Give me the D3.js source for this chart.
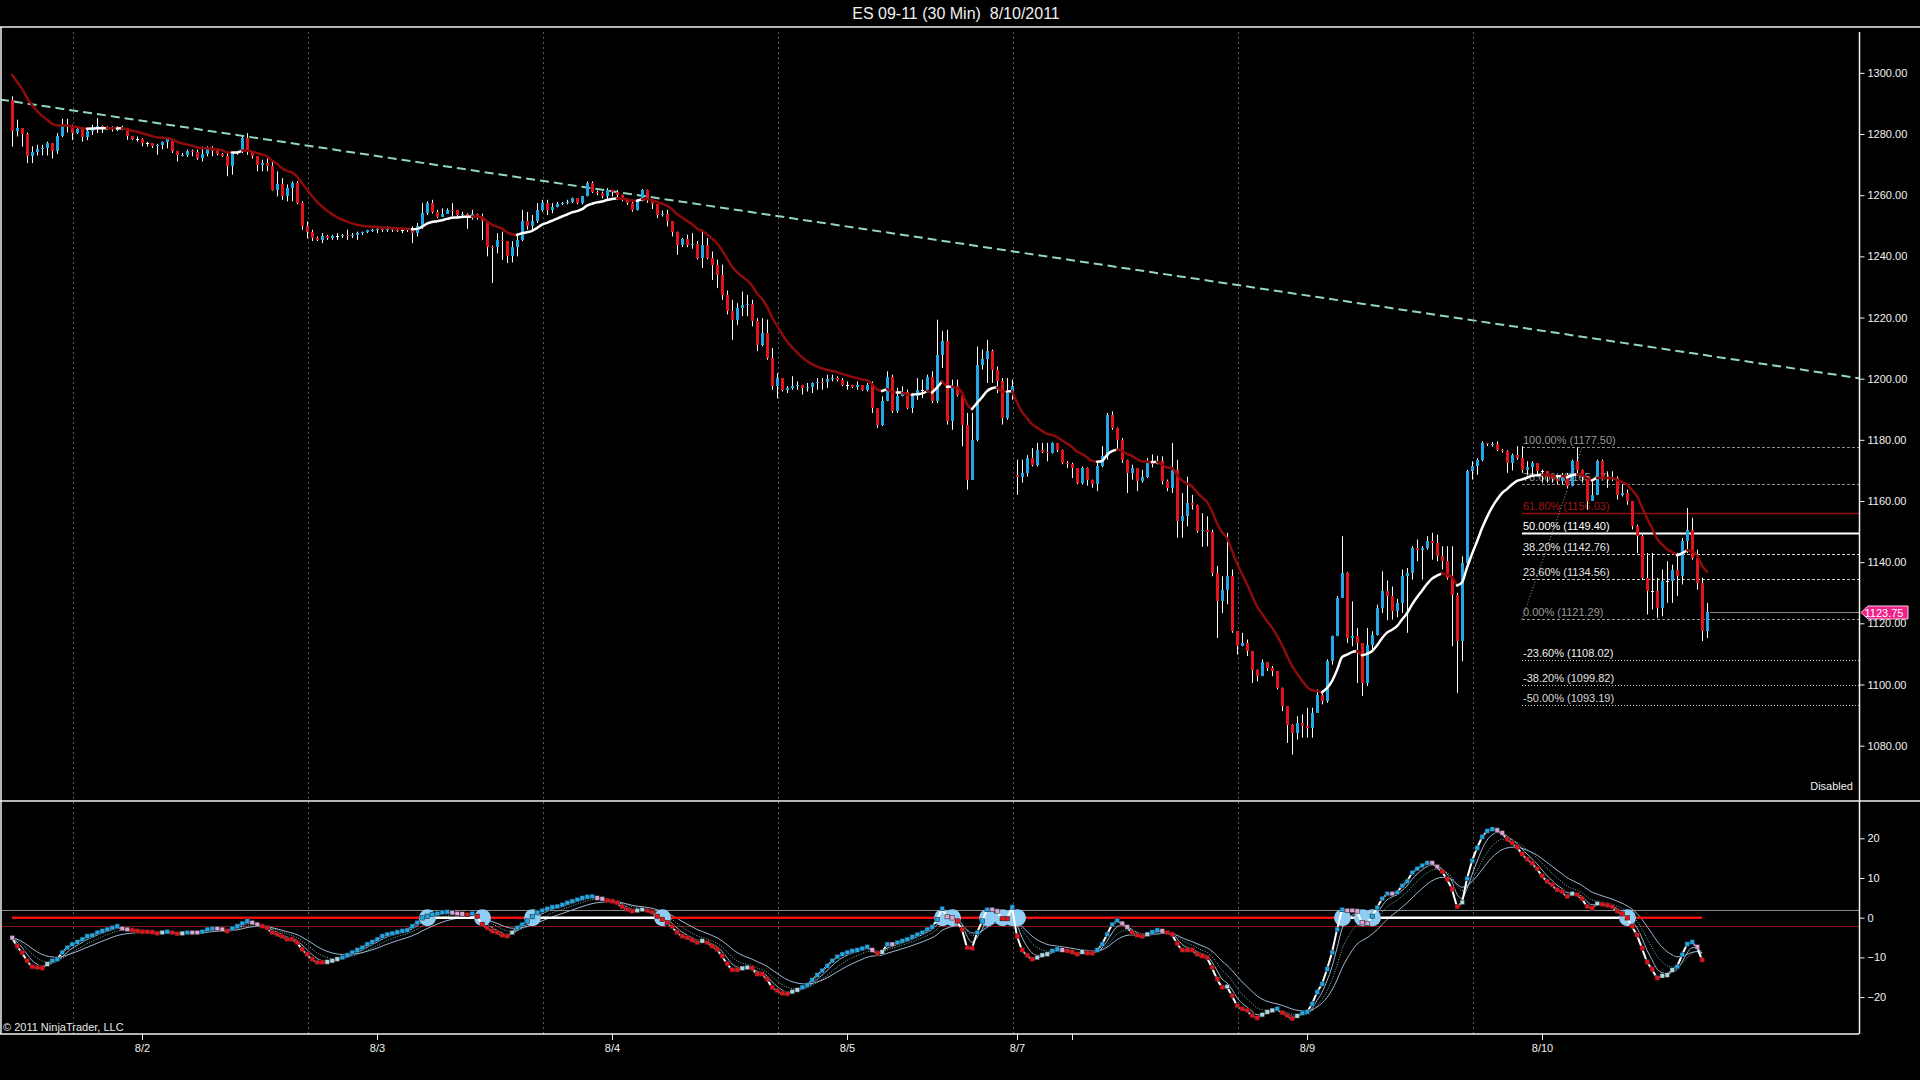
<!DOCTYPE html>
<html>
<head>
<meta charset="utf-8">
<title>ES 09-11 (30 Min)</title>
<script src="https://d3js.org/d3.v7.min.js"></script>
<style>
  html, body { margin: 0; padding: 0; background: #000; }
  svg { display: block; }
  text { font-family: "Liberation Sans", Arial, sans-serif; }
</style>
</head>
<body>
<div id="chart"></div>
<script>
// ---- bar data (30 min bars, one slot per bar) ----
var closes = [
  1281, 1282, 1280, 1272.7, 1274, 1275, 1275.5, 1277, 1274.5, 1279.2, 1282.5, 1282.7, 1280.3,
  1281.5, 1279, 1281, 1282, 1282.5, 1282, 1282, 1281.5, 1281.8,
  1282, 1279.2, 1278.5, 1278.5, 1277, 1277, 1276, 1276.5, 1277.5, 1278.5,
  1274.5, 1273, 1273.2, 1274.3, 1274, 1272.2, 1273.5, 1275, 1274.5, 1273.5,
  1272.7, 1269.4, 1273.8, 1274, 1278.6, 1274.3, 1272.7, 1270, 1270.5, 1269.4,
  1261.8, 1263.5, 1259.6, 1262.3, 1264, 1257.4, 1249.8,
  1248.1, 1246, 1245.4, 1246.5, 1246, 1246.5, 1246.5, 1247, 1246.8, 1247, 1247.5, 1248, 1248.5, 1248.6,
  1249, 1248.7, 1249, 1248.7, 1248.5, 1248.5, 1248.8, 1247.6, 1249.8, 1254.1,
  1257.4, 1254.6, 1253, 1254, 1255.2, 1255, 1253.5, 1254, 1253, 1254,
  1252.5, 1251.4, 1243.2, 1243, 1245.4, 1245, 1240, 1243.2, 1245.4, 1251.4,
  1249.8, 1251.5, 1255.2, 1257.4, 1255, 1256, 1257, 1257.4, 1257.9, 1259,
  1257.4, 1259.6, 1264, 1261.2, 1260.7, 1259.6, 1261.7, 1261, 1260, 1258.5,
  1257.4, 1255.2, 1258,
  1261.8, 1258.5, 1257, 1253.6, 1254, 1251.4, 1248.1, 1243.8, 1245.6, 1243.8,
  1244, 1239.5, 1243.8, 1239.5, 1237.3, 1234, 1227.2, 1222, 1219.3, 1223.1,
  1224.2, 1224.5, 1218.7, 1211.1, 1214.9, 1206.7, 1197.5, 1200.2, 1196.4, 1196.9,
  1197.5, 1197.8, 1196.9, 1197.2, 1198.6, 1199, 1198.8, 1199.9, 1200.2, 1199.7,
  1198, 1198, 1197.2, 1197.8, 1196.4, 1198, 1190.4, 1185, 1192.6, 1200.7,
  1189.3, 1194.2, 1195.5, 1190.4, 1194.4, 1196.4, 1196.4, 1200.7, 1192.6, 1207.7,
  1212.2, 1186.1, 1197.5, 1194.8, 1185, 1167, 1180, 1204.6, 1206.4, 1209,
  1202.9, 1199.1, 1187.2, 1195.3, 1197.5, 1168, 1169, 1174, 1171.9, 1176.8,
  1176, 1175.7, 1178.9, 1176.8, 1172.4, 1172, 1170.8, 1166, 1170.8, 1167,
  1165.4, 1171.3, 1174.6, 1188.2, 1183.9, 1180.1,
  1173.5, 1169.2, 1170.8, 1166.5, 1168, 1172.4, 1172, 1173, 1166.5, 1164.3,
  1170.2, 1153.4, 1155, 1159.4, 1158.8, 1150.1, 1150.6, 1150, 1136.5, 1127.2,
  1131, 1135.4, 1117.4, 1112.5, 1113.6, 1110.9, 1104.9, 1102.7, 1107.3, 1105.5,
  1104.4, 1098.9, 1092.9, 1086.9, 1084.2, 1087.5, 1086.4, 1085.8, 1090.7, 1096.7,
  1094.5, 1107.6, 1115.8, 1128.3, 1136.5, 1115.2, 1115.8, 1113.5, 1100.5, 1113,
  1116.3, 1125, 1130.5, 1128.9, 1124, 1126.7, 1135.4, 1136.5, 1144.7, 1144.1,
  1144.7, 1146.8, 1146.3, 1142, 1140.3, 1134.9, 1129.4, 1114.2, 1139.8, 1169.7,
  1171.6, 1173.5, 1179, 1178.5, 1178.8, 1176.8, 1176.5, 1172.4, 1175.2, 1174.1,
  1170.3, 1171, 1172.4, 1169.7, 1169.7, 1168, 1167.3, 1166.5, 1168.6, 1164.8,
  1173, 1170.3, 1168, 1160, 1162, 1173, 1167.5, 1167.5, 1167.5, 1162.1,
  1162.5, 1160, 1151.7, 1148.5, 1134.9, 1130.5, 1130.5, 1125, 1133.8, 1133.8,
  1137.6, 1135.4, 1146.8, 1150.6, 1141.4, 1133.2, 1117.4, 1123.75
];

var highs = [
  1292.3, 1284.7, 1280.8, 1280.5, 1276, 1276.5, 1276.5, 1277.5, 1277, 1280.3, 1285, 1285, 1283,
  1282.5, 1281.5, 1281.5, 1283, 1285.2, 1282.8, 1282.5, 1282.5, 1282.5,
  1282.7, 1282, 1279.4, 1279.2, 1278.6, 1277.5, 1277, 1276.8, 1277.6, 1278.6,
  1278.5, 1274.5, 1273.8, 1274.9, 1274.9, 1274.9, 1275.9, 1276, 1276, 1274.9,
  1273.8, 1273.8, 1273.9, 1274.3, 1279.2, 1280.3, 1274.3, 1272.7, 1271.6, 1272,
  1271, 1267.8, 1265.6, 1263.5, 1264.5, 1264.5, 1258,
  1251.4, 1248.7, 1246.5, 1247.6, 1247, 1247, 1247.6, 1247.3, 1248.7, 1247.6, 1248.1, 1248.1, 1248.7, 1249,
  1249.2, 1249.2, 1249.8, 1249.2, 1249.2, 1249.2, 1249, 1249.8, 1250.9, 1257.4,
  1258, 1258.5, 1255.2, 1255.7, 1255.7, 1257.4, 1255.2, 1254.6, 1254.1, 1255.2,
  1254, 1254, 1251.4, 1243.5, 1247.6, 1248.1, 1245, 1245, 1247.6, 1255.2,
  1254.5, 1253.5, 1257.4, 1258.5, 1258.5, 1257.4, 1257.8, 1257.8, 1258.5, 1259.2,
  1259, 1259.8, 1264.5, 1264.5, 1261.5, 1261.2, 1262.3, 1261.7, 1261.7, 1260.2,
  1258.5, 1258.5, 1258.5,
  1262, 1261.8, 1258.5, 1257, 1255, 1255.2, 1251.4, 1248.1, 1246, 1247.1,
  1247.6, 1245, 1248.7, 1246, 1241.6, 1238.9, 1237.3, 1228.8, 1225.8, 1224.7,
  1228.5, 1227.4, 1225.8, 1219.8, 1219.8, 1219.3, 1210, 1201.8, 1200.2, 1197.5,
  1200.8, 1199.1, 1198, 1198.6, 1198.8, 1200.2, 1200.2, 1201.3, 1201.3, 1200.8,
  1200.2, 1199.1, 1198, 1199.1, 1197.8, 1198.6, 1199.1, 1190.4, 1194.2, 1202.4,
  1201.3, 1197, 1197.5, 1196.4, 1195.3, 1200.2, 1199.7, 1201.3, 1202.4, 1219.3,
  1215.5, 1216, 1199.7, 1199.7, 1195.3, 1188.8, 1188.8, 1210.5, 1209.5, 1212.7,
  1209.5, 1204, 1200.2, 1200.2, 1199.7, 1173.5, 1173.5, 1175, 1177.3, 1179,
  1179, 1179, 1179.2, 1179, 1176.8, 1173, 1172.5, 1170.8, 1171.3, 1171,
  1167, 1172.4, 1177.9, 1188.8, 1189.3, 1184,
  1180.6, 1173.5, 1171.9, 1170.8, 1170.2, 1174, 1175.2, 1174.8, 1174.6, 1167,
  1179, 1173.5, 1162.6, 1168, 1162, 1158.8, 1156, 1155, 1150.6, 1138.7,
  1135.4, 1149.6, 1137.6, 1117.5, 1116.9, 1114.7, 1111, 1104.9, 1108.2, 1107.3,
  1106, 1104.4, 1099, 1093, 1087, 1089.6, 1090.2, 1092.4, 1092.4, 1098.4,
  1097.5, 1108.2, 1116, 1128.9, 1148.5, 1136.7, 1127.2, 1118.5, 1113.5, 1118.5,
  1117.4, 1126.1, 1137, 1134, 1132, 1128, 1137.6, 1138.1, 1145.2, 1147.4,
  1145.2, 1148.5, 1149.6, 1149, 1145.2, 1145.2, 1145.2, 1130, 1141.9, 1170.2,
  1173, 1174, 1179.5, 1179, 1179.3, 1179.5, 1177, 1176.6, 1175.5, 1177.9,
  1177.9, 1173, 1173, 1172.4, 1170.3, 1169.2, 1168.6, 1168, 1169.2, 1169.2,
  1173.5, 1177.5, 1170.3, 1166, 1166.5, 1173.5, 1173.5, 1169.7, 1169.7, 1168,
  1165.4, 1163.7, 1160, 1152.3, 1149, 1143, 1143, 1134.9, 1137.6, 1140.3,
  1139.2, 1143, 1147.9, 1157.7, 1154.5, 1144.1, 1134.9, 1126.7
];

var lows = [
  1275.9, 1279.2, 1275.9, 1270.5, 1270.5, 1273, 1273, 1273, 1272, 1273.5, 1279, 1280.5, 1278,
  1280, 1277.5, 1278, 1279.7, 1280.3, 1280.3, 1281.4, 1280.8, 1281,
  1281.4, 1278.1, 1278, 1277.5, 1276, 1275.9, 1275.4, 1273.2, 1275, 1275.3,
  1273.8, 1271, 1272.7, 1272.5, 1272.7, 1271.6, 1271, 1272.7, 1272.7, 1273,
  1272.5, 1266.2, 1266.7, 1273.2, 1273.8, 1273.2, 1272, 1267.8, 1267.8, 1267.8,
  1261.5, 1259.6, 1258.5, 1258, 1258, 1257, 1248.7,
  1245.9, 1245, 1245, 1244.3, 1245.4, 1245.4, 1245.4, 1246, 1245.4, 1246, 1245.4, 1247, 1247.6, 1248,
  1247.6, 1248, 1248, 1248, 1248, 1247.6, 1248, 1244.3, 1246.5, 1249,
  1253.5, 1254, 1252.5, 1253, 1254, 1253, 1253, 1253, 1249, 1252,
  1252, 1245.4, 1240, 1231.3, 1241, 1238.9, 1237.8, 1238, 1240, 1245,
  1248.7, 1248.1, 1250.9, 1254.6, 1253.5, 1254.1, 1256, 1256.8, 1257, 1257.4,
  1257, 1257, 1259.6, 1260.7, 1260, 1259, 1258.5, 1259.6, 1258.5, 1258,
  1256.8, 1254.6, 1255,
  1258, 1257.5, 1255.5, 1252.5, 1253, 1249.8, 1246.5, 1240.5, 1243, 1243,
  1242.5, 1239, 1236.2, 1239, 1232.3, 1229.6, 1225.8, 1221, 1212.7, 1217.6,
  1220.4, 1220.4, 1217.1, 1209, 1210.6, 1206.2, 1196.4, 1193.6, 1195.8, 1195.3,
  1196.4, 1196.4, 1194.8, 1195.8, 1195.3, 1196.4, 1196.4, 1197, 1199.1, 1199.1,
  1197.5, 1196.4, 1196.9, 1196.4, 1196, 1195.8, 1188.8, 1183.9, 1184.5, 1192.6,
  1188.8, 1188.8, 1194.2, 1190, 1188.8, 1193.1, 1193.7, 1195.8, 1192, 1192,
  1203.5, 1185, 1183.3, 1194.2, 1177.9, 1163.7, 1166.9, 1179.5, 1203, 1198.6,
  1198.6, 1195.3, 1185, 1186.6, 1193.1, 1162, 1166, 1168, 1171.3, 1171.3,
  1175.7, 1173, 1175.5, 1176, 1172, 1170.8, 1167.5, 1165.5, 1165.4, 1165,
  1164.4, 1163.2, 1171, 1173.5, 1183.3, 1177,
  1172.4, 1162.6, 1167, 1163.2, 1166, 1167.5, 1171, 1172, 1165.4, 1163.2,
  1162.6, 1148, 1148, 1151.7, 1157.2, 1149.6, 1145, 1145.2, 1135.4, 1115.2,
  1123.4, 1126.2, 1116.9, 1109.8, 1112.5, 1109.3, 1100.5, 1101, 1102.7, 1104.4,
  1102.7, 1098.4, 1091.3, 1080.9, 1077.1, 1082, 1082.6, 1082.6, 1082.6, 1090.7,
  1093.5, 1094, 1106.5, 1116.3, 1128.9, 1113.6, 1112.5, 1100.5, 1096.2, 1099.5,
  1111.4, 1116, 1123.4, 1121, 1121.2, 1122, 1123.4, 1116.9, 1134.3, 1140.3,
  1134.3, 1144.1, 1140.8, 1140.3, 1137.6, 1134.3, 1112.5, 1097.3, 1107.6, 1138.7,
  1167, 1168.6, 1173, 1178, 1177.8, 1176.3, 1175.8, 1169.2, 1170, 1173.5,
  1169.2, 1168.6, 1168, 1168, 1166, 1166, 1166, 1165.5, 1165.4, 1164.3,
  1164.8, 1169.2, 1166, 1157.2, 1160.5, 1164.3, 1167, 1164.3, 1166.5, 1160.5,
  1161.5, 1158.8, 1150.7, 1143, 1134.3, 1122.9, 1124.5, 1121.8, 1122.3, 1126.7,
  1126.7, 1128.9, 1132.7, 1143, 1140.8, 1131, 1114.2, 1115.2
];

// bars whose open is not the previous close (first bar, Sunday gap)
var gapSlots = [0, 201];
var gapOpens = [1291.2, 1168.5];

// moving average: period and its value at the first bar
var maPeriod = 14;
var maStart = 1299.4;

// oscillator (lower panel), one value per bar except the last
var oscValues = [
  -5.1, -7.2, -8.8, -10.9, -12.4, -12.6, -12.75, -11.75, -10.9, -10.5,
  -8.8, -7.6, -6.75, -6.2, -5.5, -4.7, -4.5, -3.8, -3.4, -3,
  -2.6, -2.2, -2.8, -3, -3.2, -3.4, -3.6, -3.6, -3.7, -4,
  -3.8, -3.6, -3.8, -4.1, -4, -3.8, -3.8, -3.8, -3.6, -3,
  -2.8, -2.8, -3, -3.4, -2.75, -2.2, -1.5, -0.9, -1.3, -1.75,
  -2.2, -2.6, -3.8, -4.25, -4.8, -5.5, -5.5, -6.3, -8, -9.25,
  -10.5, -11.3, -11.3, -11.2, -10.9, -10.5, -10.1, -9.5, -8.8, -8.2,
  -7.6, -6.75, -6.2, -5.5, -4.7, -4.25, -4, -3.7, -3.4, -3.2,
  -2.2, -1.3, -0.1, 0.3, 0.75, 1, 1.3, 1.4, 1.2, 1,
  0.9, 0.75, 1, 0.3, -1.75, -2.6, -3.4, -3.8, -4.5, -4.7,
  -3.8, -2.6, -1.75, -0.9, 0.2, 1.2, 1.75, 2.2, 2.6, 2.8,
  3.2, 3.7, 4.1, 4.5, 4.9, 5.2, 5.3, 4.9, 4.7, 4.3,
  4.1, 3.7, 2.7, 2, 1.6, 1.75, 2, 1.75, 1.3, 0.3,
  -0.5, -1.3, -2.3, -3.7, -4.7, -5.1, -5.7, -6.3, -5.9, -6.3,
  -7.2, -8, -9.7, -11.6, -13.2, -13.2, -12.8, -12.6, -12.75, -14.25,
  -14.25, -15.5, -17.6, -18.4, -19.1, -19.25, -18.7, -18.25, -17.6, -17,
  -15.75, -14.5, -13.4, -12.2, -10.9, -9.9, -9.25, -8.8, -8.4, -8.2,
  -7.8, -7.4, -8.2, -9, -8.7, -6.75, -6.75, -6.3, -5.9, -5.5,
  -4.9, -4.3, -3.8, -3, -2.4, -0.5, 2.25, 0.2, -0.1, -0.9,
  -3, -7.6, -7.75, -3.8, -0.9, 2, 2, 1.6, -0.3, -0.3,
  2.6, -4.7, -8.2, -9.5, -10.5, -10.1, -9.5, -9.25, -8.4, -8,
  -8.2, -8.4, -8.7, -9.25, -8.7, -9, -9, -8.2, -6.75, -4.25,
  -1.75, -0.75, -1.5, -2.4, -3.8, -4.5, -4.8, -4.25, -3.7, -3.2,
  -3.4, -3.8, -4.25, -6.5, -8.2, -8.2, -8.2, -9.25, -9.7, -10.1,
  -12.6, -15.5, -17.6, -17.4, -19.7, -22.2, -23, -23.4, -24.7, -25.3,
  -24.5, -23.8, -23.4, -23, -24, -24.7, -25.5, -24.8, -24.1, -23.8,
  -21.75, -18.8, -16.75, -13, -8.8, -3, 2, 1.75, 1.75, 1.6,
  -1.3, -1.5, 0.3, 2.5, 4.75, 6, 6, 6.3, 8, 9.1,
  11.3, 12.3, 13.1, 13.75, 13.75, 12.8, 11.6, 9.7, 7.2, 2.7,
  3.8, 9.8, 14.3, 17.5, 20.3, 21.8, 22.25, 22, 21.3, 19.75,
  18.8, 17.75, 16, 14.7, 13.7, 12.3, 10.5, 9.1, 8.25, 7,
  6.5, 5.3, 6, 5.75, 4.75, 2.8, 2.4, 3.5, 3.3, 3.1,
  2.7, 1.6, 0.9, -0.1, -2.2, -4.4, -7.75, -11.2, -13, -15.25,
  -14.7, -14.5, -13.25, -12.4, -9.4, -6.7, -6.2, -7.4, -10.7
];
var oscSmoothPeriods = [3, 6, 11];
var oscLevels = [2, -2];

// axes
var priceTicks = [1080, 1100, 1120, 1140, 1160, 1180, 1200, 1220, 1240, 1260, 1280, 1300];
var oscTicks = [-20, -10, 0, 10, 20];
var dateTickSlots = [26, 73, 120, 167, 201, 212, 259, 306];
var dateTickLabels = ["8/2", "8/3", "8/4", "8/5", "8/7", "", "8/9", "8/10"];
var sessionSlots = [12.1, 59.1, 106.1, 153.1, 200.1, 245.1, 292.1];

// drawings
var trendSlots = [0, 339];
var trendPrices = [1290.7, 1207.6];
var fibSlots = [302, 314];
var fibPercents = [100, 78.6, 61.8, 50, 38.2, 23.6, 0, -23.6, -38.2, -50];
var fibPrices = [1177.50, 1165.47, 1156.03, 1149.40, 1142.76, 1134.56, 1121.29, 1108.02, 1099.82, 1093.19];

// ---- layout ----
var width = 1920, height = 1080;
var plotL = 1, plotR = 1859;
var priceT = 27, priceB = 801, indT = 801, indB = 1034;

var x = d3.scaleLinear().domain([0, closes.length - 1]).range([12, 1707]);
var yP = d3.scaleLinear().domain([1061.9, 1315.0]).range([priceB, priceT]);
var yI = d3.scaleLinear().domain([-29.3, 29.4]).range([indB, indT]);

var upColor = "#22a8e6", downColor = "#e3141c";
var maUp = "#ffffff", maDown = "#8e0b0b";

var svg = d3.select("#chart").append("svg")
  .attr("width", width).attr("height", height);
svg.append("rect").attr("width", width).attr("height", height).attr("fill", "#000");

var defs = svg.append("defs");
defs.append("clipPath").attr("id", "clipPrice").append("rect")
  .attr("x", plotL).attr("y", priceT).attr("width", plotR - plotL).attr("height", priceB - priceT);
defs.append("clipPath").attr("id", "clipInd").append("rect")
  .attr("x", plotL).attr("y", indT).attr("width", plotR - plotL).attr("height", indB - indT);

// session separators through both panels
svg.append("g").selectAll("line").data(sessionSlots).enter().append("line")
  .attr("x1", function(d) { return Math.round(x(d)) + 0.5; })
  .attr("x2", function(d) { return Math.round(x(d)) + 0.5; })
  .attr("y1", 32).attr("y2", indB)
  .attr("stroke", "#5c5c5c").attr("stroke-width", 1).attr("stroke-dasharray", "2,3");

// ---- price panel ----
var pane = svg.append("g").attr("clip-path", "url(#clipPrice)");

// trend line, extended across the panel
var slope = (trendPrices[1] - trendPrices[0]) / (x(trendSlots[1]) - x(trendSlots[0]));
function trendAt(px) { return trendPrices[0] + slope * (px - x(trendSlots[0])); }
pane.append("line")
  .attr("x1", 0).attr("y1", yP(trendAt(0)))
  .attr("x2", plotR).attr("y2", yP(trendAt(plotR)))
  .attr("stroke", "#93d8bc").attr("stroke-width", 2).attr("stroke-dasharray", "9,5");

// fibonacci retracement
var fibStyle = {
  "100": ["#9a9a9a", "#8c8c8c", "3,2", 1],
  "78.6": ["#8f9aa6", "#8c8c8c", "3,2", 1],
  "61.8": ["#a51515", "#8e1212", null, 1.5],
  "50": ["#ffffff", "#ffffff", null, 2],
  "38.2": ["#e8e8e8", "#d8d8d8", "3,2", 1],
  "23.6": ["#e0e0e0", "#d0d0d0", "3,2", 1],
  "0": ["#9a9a9a", "#9a9a9a", "3,2", 1],
  "-23.6": ["#f0f0f0", "#d8d8d8", "1,2", 1],
  "-38.2": ["#e4e4e4", "#d0d0d0", "1,2", 1],
  "-50": ["#d8d8d8", "#c8c8c8", "1,2", 1]
};
var fibX0 = x(fibSlots[0]);
var fib = pane.append("g");
fibPercents.forEach(function(p, k) {
  var st = fibStyle[String(p)];
  var yy = Math.round(yP(fibPrices[k])) + 0.5;
  var ln = fib.append("line").attr("x1", fibX0).attr("x2", plotR)
    .attr("y1", yy).attr("y2", yy)
    .attr("stroke", st[1]).attr("stroke-width", st[3]);
  if (st[2]) ln.attr("stroke-dasharray", st[2]);
  fib.append("text").attr("x", fibX0 + 1).attr("y", yy - 4)
    .attr("fill", st[0]).style("font-size", "11px")
    .text(p.toFixed(2) + "% (" + fibPrices[k].toFixed(2) + ")");
});
fib.append("line")
  .attr("x1", x(fibSlots[0])).attr("y1", yP(fibPrices[6]))
  .attr("x2", x(fibSlots[1])).attr("y2", yP(fibPrices[0]))
  .attr("stroke", "#a8a8a8").attr("stroke-width", 1).attr("stroke-dasharray", "1,2");

// candles
var bars = closes.map(function(c, i) {
  var g = gapSlots.indexOf(i);
  var o = g >= 0 ? gapOpens[g] : closes[i - 1];
  return { i: i, o: o, c: c, h: Math.max(highs[i], o, c), l: Math.min(lows[i], o, c) };
});

pane.append("g").selectAll("line").data(bars).enter().append("line")
  .attr("x1", function(d) { return x(d.i) + 0.5; })
  .attr("x2", function(d) { return x(d.i) + 0.5; })
  .attr("y1", function(d) { return yP(d.h); })
  .attr("y2", function(d) { return yP(d.l); })
  .attr("stroke", "#ffffff").attr("stroke-width", 1);

pane.append("g").selectAll("rect").data(bars).enter().append("rect")
  .attr("x", function(d) { return x(d.i) - 1; })
  .attr("width", 3)
  .attr("y", function(d) { return yP(Math.max(d.o, d.c)); })
  .attr("height", function(d) { return Math.max(1, Math.abs(yP(d.o) - yP(d.c))); })
  .attr("fill", function(d) {
    if (Math.abs(d.c - d.o) < 0.05) return "#ffffff";
    return d.c > d.o ? upColor : downColor;
  })
  .attr("shape-rendering", "crispEdges");

// exponential moving average, coloured by slope
function ema(values, period, seed) {
  var a = 2 / (period + 1), out = [], prev = seed;
  values.forEach(function(v, i) {
    prev = i === 0 ? seed : prev + a * (v - prev);
    out.push(prev);
  });
  return out;
}
var ma = ema(closes, maPeriod, maStart);

function colouredRuns(values, colourOf) {
  var runs = [], cur = null;
  for (var i = 1; i < values.length; i++) {
    var col = colourOf(i);
    if (!cur || cur.col !== col) {
      cur = { col: col, pts: [[i - 1, values[i - 1]]] };
      runs.push(cur);
    }
    cur.pts.push([i, values[i]]);
  }
  return runs;
}
var maLine = d3.line().x(function(p) { return x(p[0]); }).y(function(p) { return yP(p[1]); })
  .curve(d3.curveMonotoneX);
pane.append("g").selectAll("path")
  .data(colouredRuns(ma, function(i) { return ma[i] >= ma[i - 1] ? maUp : maDown; }))
  .enter().append("path")
  .attr("d", function(r) { return maLine(r.pts); })
  .attr("fill", "none")
  .attr("stroke", function(r) { return r.col; })
  .attr("stroke-width", 2.5).attr("stroke-linecap", "round").attr("stroke-linejoin", "round");

// last price line
var last = closes[closes.length - 1];
var yLast = Math.round(yP(last)) + 0.5;
svg.append("line").attr("x1", x(closes.length - 1) + 3).attr("x2", plotR)
  .attr("y1", yLast).attr("y2", yLast).attr("stroke", "#8a8a8a").attr("stroke-width", 1);

svg.append("text").attr("x", 1853).attr("y", 790).attr("text-anchor", "end")
  .attr("fill", "#f0f0f0").style("font-size", "11px").text("Disabled");

// ---- oscillator panel ----
var ip = svg.append("g").attr("clip-path", "url(#clipInd)");

ip.selectAll("line.level").data(oscLevels).enter().append("line")
  .attr("x1", plotL).attr("x2", plotR)
  .attr("y1", function(d) { return Math.round(yI(d)) + 0.5; })
  .attr("y2", function(d) { return Math.round(yI(d)) + 0.5; })
  .attr("stroke", function(d) { return d > 0 ? "#8a8a8a" : "#8b1616"; })
  .attr("stroke-width", 1);

var smooth = oscSmoothPeriods.map(function(p) { return ema(oscValues, p, oscValues[0]); });
var oLine = d3.line().x(function(v, i) { return x(i); }).y(function(v) { return yI(v); })
  .curve(d3.curveMonotoneX);
ip.append("path").attr("d", oLine(smooth[0])).attr("fill", "none")
  .attr("stroke", "#9cb8d4").attr("stroke-width", 1);
ip.append("path").attr("d", oLine(smooth[2])).attr("fill", "none")
  .attr("stroke", "#9cb8d4").attr("stroke-width", 1);
ip.append("path").attr("d", oLine(smooth[1])).attr("fill", "none")
  .attr("stroke", "#6fb6b6").attr("stroke-width", 1).attr("stroke-dasharray", "1,1.5");

// zero line: white while the oscillator is positive, red otherwise
var zeroLine = d3.line().x(function(p) { return x(p[0]); }).y(function() { return yI(0); });
ip.append("g").selectAll("path")
  .data(colouredRuns(oscValues, function(i) { return oscValues[i] > 0 ? "#ffffff" : "#f01010"; }))
  .enter().append("path")
  .attr("d", function(r) { return zeroLine(r.pts); })
  .attr("fill", "none").attr("stroke", function(r) { return r.col; }).attr("stroke-width", 2.6);

// circles at zero crossings
var crossings = [];
oscValues.forEach(function(v, i) {
  if (i > 0 && (v > 0) !== (oscValues[i - 1] > 0)) crossings.push(i);
});
ip.append("g").selectAll("circle").data(crossings).enter().append("circle")
  .attr("cx", function(d) { return x(d) + 0.5; })
  .attr("cy", yI(0))
  .attr("r", 8.5)
  .attr("fill", "#8fcdf3");

// main oscillator line with coloured squares
ip.append("path").attr("d", oLine.curve(d3.curveLinear)(oscValues)).attr("fill", "none")
  .attr("stroke", "#ffffff").attr("stroke-width", 2);

function squareColour(i) {
  var v = oscValues[i];
  var rising = i > 0 && v > oscValues[i - 1];
  var above = v >= smooth[1][i];
  if (rising) return above ? "#1fa6e4" : "#aed6de";
  return above ? "#dba6d6" : "#e4121a";
}
ip.append("g").selectAll("rect").data(oscValues).enter().append("rect")
  .attr("x", function(v, i) { return x(i) - 2; })
  .attr("y", function(v) { return yI(v) - 2.5; })
  .attr("width", 4.5).attr("height", 4.5)
  .attr("fill", function(v, i) { return squareColour(i); })
  .attr("stroke", "#1a1a1a").attr("stroke-width", 0.5);

// ---- frame and axes ----
var frame = svg.append("g").attr("stroke", "#f2f2f2").attr("stroke-width", 1.5);
frame.append("line").attr("x1", 0).attr("x2", width).attr("y1", priceT).attr("y2", priceT);
frame.append("line").attr("x1", 0).attr("x2", width).attr("y1", priceB).attr("y2", priceB);
frame.append("line").attr("x1", 0).attr("x2", plotR).attr("y1", indB).attr("y2", indB);
frame.append("line").attr("x1", plotL).attr("x2", plotL).attr("y1", priceT).attr("y2", indB);
frame.append("line").attr("x1", plotR + 0.5).attr("x2", plotR + 0.5).attr("y1", 32).attr("y2", priceB);
frame.append("line").attr("x1", plotR + 0.5).attr("x2", plotR + 0.5).attr("y1", indT).attr("y2", indB);

function styleAxis(g) {
  g.select(".domain").remove();
  g.selectAll("line").attr("stroke", "#f2f2f2");
  g.selectAll("text").attr("fill", "#f0f0f0")
    .attr("font-family", "'Liberation Sans', Arial, sans-serif").attr("font-size", 11);
}
svg.append("g").attr("transform", "translate(" + (plotR + 0.5) + ",0)")
  .call(d3.axisRight(yP).tickValues(priceTicks).tickSize(5).tickPadding(3).tickFormat(d3.format(".2f")))
  .call(styleAxis);
svg.append("g").attr("transform", "translate(" + (plotR + 0.5) + ",0)")
  .call(d3.axisRight(yI).tickValues(oscTicks).tickSize(5).tickPadding(3).tickFormat(d3.format("d")))
  .call(styleAxis);
svg.append("g").attr("transform", "translate(0," + indB + ")")
  .call(d3.axisBottom(x).tickValues(dateTickSlots).tickSize(6).tickPadding(4)
    .tickFormat(function(d, i) { return dateTickLabels[i]; }))
  .call(styleAxis);

// current price marker
var mk = svg.append("g");
mk.append("path")
  .attr("d", "M" + (plotR + 2) + "," + yLast + " L" + (plotR + 9) + "," + (yLast - 6.5) +
    " L1908," + (yLast - 6.5) + " L1908," + (yLast + 6.5) + " L" + (plotR + 9) + "," + (yLast + 6.5) + " Z")
  .attr("fill", "#f0238a").attr("stroke", "#ffd0e6").attr("stroke-width", 1);
mk.append("text").attr("x", 1884).attr("y", yLast + 4).attr("text-anchor", "middle")
  .attr("fill", "#ffffff").style("font-size", "11px").text(last.toFixed(2));

// texts
svg.append("text").attr("x", 956).attr("y", 19).attr("text-anchor", "middle")
  .attr("fill", "#f0f0f0").style("font-size", "16px").style("white-space", "pre")
  .text("ES 09-11 (30 Min)\u00a0 8/10/2011");
svg.append("text").attr("x", 3).attr("y", 1031)
  .attr("fill", "#e8e8e8").style("font-size", "11px").text("\u00a9 2011 NinjaTrader, LLC");
</script>
</body>
</html>
